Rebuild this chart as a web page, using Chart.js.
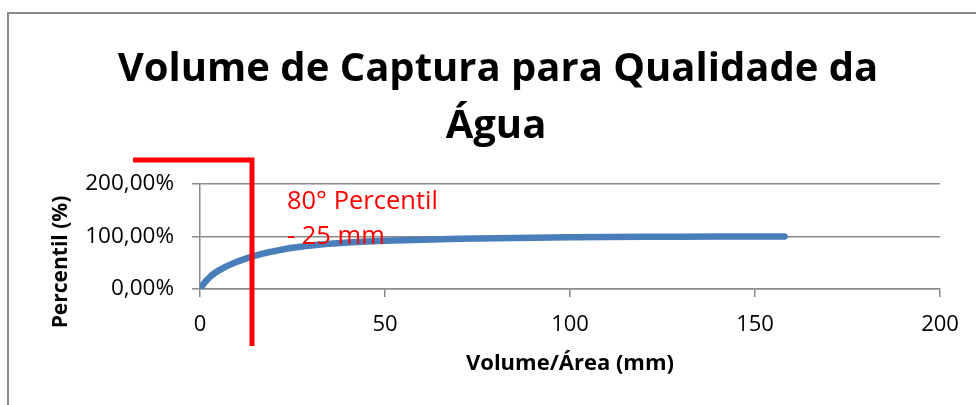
<!DOCTYPE html>
<html>
<head>
<meta charset="utf-8">
<script src="https://cdn.jsdelivr.net/npm/chart.js@4.4.1/dist/chart.umd.min.js"></script>
<style>
  html, body { margin: 0; padding: 0; background: #fff; }
  #wrap { width: 976px; height: 405px; position: relative; }
</style>
</head>
<body>
<div id="wrap"><canvas id="c" width="976" height="405"></canvas></div>
<script>
// Captured volume per area (mm) and the cumulative percentile of events (%)
const volumeMm = [0, 1, 2, 3, 4, 5, 6, 8, 10, 12, 14, 16, 18, 20, 22, 25, 28, 32, 36, 40, 45, 50, 60, 70, 80, 90, 100, 110, 120, 130, 140, 150, 158];
const percentile = [0, 10, 18, 25, 30.5, 35, 39, 46, 52, 57, 61.5, 65.5, 69, 72, 74.8, 78.5, 81.2, 84.2, 86.6, 88.5, 90.3, 91.8, 94, 95.6, 96.8, 97.7, 98.4, 98.9, 99.3, 99.6, 99.8, 100, 100];

// Red marker: elbow line (horizontal above the plot, then down through the axis)
const markerX = [-18.1, 14.05, 14.05];
const markerY = [245.7, 245.7, -108.6];

// Axis ticks
const xTicks = [0, 50, 100, 150, 200];
const yTicks = [0, 100, 200];

const titleLines = ['Volume de Captura para Qualidade da', 'Água'];
const xTitle = 'Volume/Área (mm)';
const yTitle = 'Percentil (%)';
const noteLines = ['80° Percentil', '- 25 mm'];
const noteAt = { x: 23.5, y: 152 };

const curve = volumeMm.map((v, i) => ({ x: v, y: percentile[i] }));
const marker = markerX.map((v, i) => ({ x: v, y: markerY[i] }));

const GRID = '#8a8a8a';
const FONT = "'Open Sans', 'DejaVu Sans', sans-serif";

const decor = {
  id: 'decor',
  beforeDraw(chart) {
    const ctx = chart.ctx;
    ctx.save();
    ctx.fillStyle = '#fff';
    ctx.fillRect(0, 0, chart.width, chart.height);
    // frame (top and left edges)
    ctx.strokeStyle = GRID;
    ctx.lineWidth = 2;
    ctx.beginPath();
    ctx.moveTo(976, 13);
    ctx.lineTo(8, 13);
    ctx.lineTo(8, 405);
    ctx.stroke();
    // title
    ctx.fillStyle = '#000';
    ctx.textAlign = 'center';
    ctx.textBaseline = 'alphabetic';
    ctx.font = 'bold 40px ' + FONT;
    ctx.fillText(titleLines[0], 498, 81);
    ctx.fillText(titleLines[1], 496, 138);
    // y-axis title
    ctx.save();
    ctx.translate(61, 262);
    ctx.rotate(-Math.PI / 2);
    ctx.font = 'bold 21px ' + FONT;
    ctx.textBaseline = 'middle';
    ctx.fillText(yTitle, 0, 0);
    ctx.restore();
    ctx.restore();
  },
  afterDatasetsDraw(chart) {
    const ctx = chart.ctx;
    const xs = chart.scales.x, ys = chart.scales.y;
    const px = xs.getPixelForValue(noteAt.x);
    const py = ys.getPixelForValue(noteAt.y);
    ctx.save();
    ctx.fillStyle = '#ff0000';
    ctx.font = '25.5px ' + FONT;
    ctx.textAlign = 'left';
    ctx.textBaseline = 'alphabetic';
    ctx.fillText(noteLines[0], px, py);
    ctx.fillText(noteLines[1], px, py + 35);
    ctx.restore();
  }
};

new Chart(document.getElementById('c'), {
  type: 'scatter',
  data: {
    datasets: [
      {
        data: marker,
        showLine: true,
        borderColor: '#ff0000',
        borderWidth: 5,
        borderJoinStyle: 'miter',
        pointRadius: 0,
        clip: false
      },
      {
        data: curve,
        showLine: true,
        borderColor: '#4a7ebb',
        borderWidth: 6.5,
        borderCapStyle: 'round',
        cubicInterpolationMode: 'monotone',
        pointRadius: 0
      }
    ]
  },
  options: {
    responsive: false,
    animation: false,
    events: [],
    layout: { padding: { left: 0, top: 184, right: 36, bottom: 0 } },
    plugins: { legend: { display: false }, title: { display: false }, tooltip: { enabled: false } },
    scales: {
      x: {
        type: 'linear',
        min: 0, max: 200,
        afterBuildTicks(s) { s.ticks = xTicks.map(v => ({ value: v })); },
        afterFit(s) { s.height = 116; },
        grid: { drawOnChartArea: false, drawTicks: true, tickLength: 8, color: GRID, lineWidth: 1.5 },
        border: { color: GRID, width: 1.5 },
        ticks: { color: '#000', padding: 15, font: { family: FONT, size: 22 }, maxRotation: 0 },
        title: { display: true, text: xTitle, color: '#000', font: { family: FONT, size: 22, weight: 'bold' }, padding: { top: 0, bottom: 28 } }
      },
      y: {
        type: 'linear',
        min: 0, max: 200,
        afterBuildTicks(s) { s.ticks = yTicks.map(v => ({ value: v })); },
        afterFit(s) { s.width = 200; },
        grid: { drawTicks: true, tickLength: 8, color: GRID, lineWidth: 1.5 },
        border: { color: GRID, width: 1.5 },
        ticks: {
          color: '#000', padding: 18, font: { family: FONT, size: 22.5 },
          callback: v => v.toFixed(2).replace('.', ',') + '%'
        }
      }
    }
  },
  plugins: [decor]
});
</script>
</body>
</html>
